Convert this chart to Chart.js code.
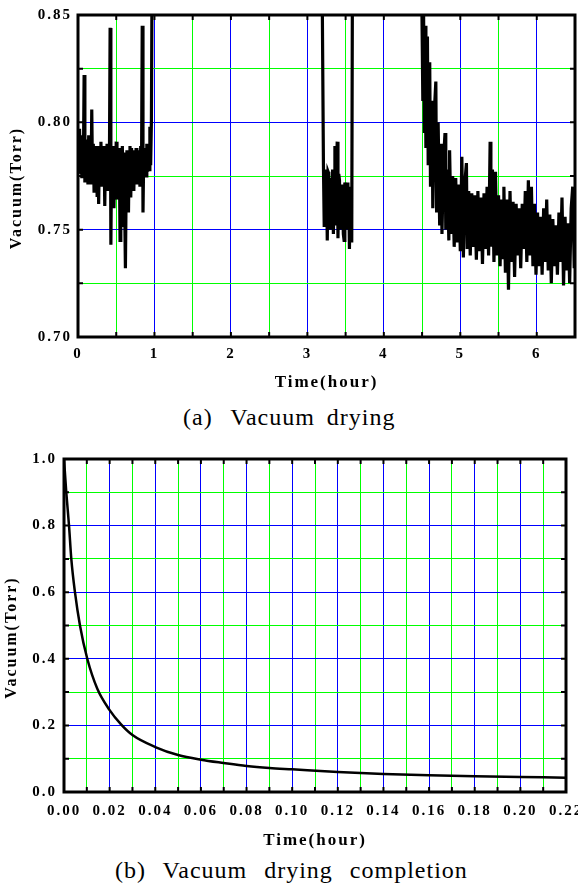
<!DOCTYPE html>
<html>
<head>
<meta charset="utf-8">
<script src="https://cdn.jsdelivr.net/npm/chart.js@4.4.1/dist/chart.umd.min.js"></script>
<style>
  html, body { margin: 0; padding: 0; background: #fff; width: 578px; height: 886px; overflow: hidden; }
  .wrap { position: absolute; left: 0; width: 578px; overflow: hidden; }
  .cap { position: absolute; font-family: "Liberation Serif", "Times New Roman", serif; font-size: 24px; line-height: 24px; letter-spacing: 1px; color: #000; white-space: pre; }
</style>
</head>
<body>
<div class="wrap" style="top:0;height:400px"><canvas id="chartA" width="600" height="400"></canvas></div>
<div class="cap" style="left:183px;top:405px;word-spacing:5px"><span style="margin-right:6px">(a)</span> Vacuum drying</div>
<div class="wrap" style="top:430px;height:425px"><canvas id="chartB" width="600" height="425"></canvas></div>
<div class="cap" style="left:115px;top:858px;word-spacing:10px">(b) Vacuum drying completion</div>
<script>
// ---------- data: (a) vacuum drying ----------
const dryTimes = [
  0.00,0.01,0.02,0.03,0.04,0.05,0.06,0.07,0.08,0.09,0.10,0.11,0.12,0.13,0.14,0.15,0.16,0.17,0.18,0.19,
  0.20,0.21,0.22,0.23,0.24,0.25,0.26,0.27,0.28,0.29,0.30,0.31,0.32,0.33,0.34,0.35,0.36,0.37,0.38,0.39,
  0.40,0.41,0.42,0.43,0.44,0.45,0.46,0.47,0.48,0.49,0.50,0.51,0.52,0.53,0.54,0.55,0.56,0.57,0.58,0.59,
  0.60,0.61,0.62,0.63,0.64,0.65,0.66,0.67,0.68,0.69,0.70,0.71,0.72,0.73,0.74,0.75,0.76,0.77,0.78,0.79,
  0.80,0.81,0.82,0.83,0.84,0.85,0.86,0.87,0.88,0.89,0.90,0.91,0.92,0.93,0.94,0.95,0.96,0.97,
  2.00,
  3.19,3.21,3.22,3.23,3.24,3.25,3.26,3.27,3.28,3.29,3.30,3.31,3.32,3.33,3.34,3.35,3.36,3.37,3.38,3.39,
  3.40,3.41,3.42,3.43,3.44,3.45,3.46,3.47,3.48,3.49,3.50,3.51,3.52,3.53,3.54,3.55,3.56,3.57,3.58,3.59,
  4.00,
  4.49,4.51,4.52,4.53,4.54,4.55,4.57,4.58,4.60,4.61,4.63,4.64,4.66,4.68,4.69,4.71,4.73,4.75,4.76,4.78,
  4.80,4.81,4.83,4.85,4.86,4.88,4.90,4.92,4.94,4.96,4.98,5.00,5.02,5.04,5.06,5.08,5.09,5.11,5.13,5.15,
  5.17,5.19,5.21,5.23,5.25,5.27,5.29,5.31,5.33,5.35,5.37,5.39,5.40,5.42,5.44,5.46,5.48,5.50,5.52,5.54,
  5.56,5.57,5.59,5.61,5.63,5.65,5.67,5.69,5.71,5.73,5.75,5.77,5.79,5.81,5.83,5.85,5.87,5.89,5.91,5.93,
  5.95,5.97,5.99,6.01,6.03,6.05,6.07,6.09,6.11,6.13,6.15,6.17,6.19,6.21,6.23,6.25,6.27,6.29,6.31,6.33,
  6.35,6.37,6.39,6.41,6.43,6.45,6.47,6.49,6.50
];
const dryVacuum = [
  0.795,0.776,0.797,0.780,0.794,0.774,0.790,0.778,0.822,0.772,0.792,0.777,0.789,0.771,0.794,0.776,0.788,0.771,0.806,0.774,
  0.790,0.768,0.789,0.774,0.788,0.766,0.789,0.762,0.787,0.772,0.791,0.770,0.786,0.775,0.789,0.761,0.787,0.772,0.790,0.768,
  0.786,0.776,0.844,0.743,0.788,0.770,0.789,0.760,0.786,0.772,0.791,0.764,0.787,0.770,0.788,0.745,0.786,0.768,0.789,0.752,
  0.786,0.762,0.732,0.770,0.787,0.764,0.758,0.786,0.789,0.765,0.788,0.772,0.787,0.768,0.786,0.774,0.788,0.771,0.787,0.775,
  0.787,0.770,0.789,0.773,0.845,0.758,0.786,0.778,0.788,0.775,0.790,0.777,0.789,0.778,0.798,0.780,0.800,0.880,
  null,
  0.880,0.780,0.752,0.778,0.760,0.775,0.745,0.777,0.776,0.755,0.750,0.774,0.752,0.778,0.748,0.772,0.789,0.752,0.776,0.791,
  0.746,0.776,0.773,0.750,0.771,0.755,0.770,0.748,0.745,0.772,0.768,0.750,0.772,0.755,0.770,0.741,0.769,0.752,0.744,0.880,
  null,
  0.880,0.810,0.850,0.795,0.845,0.788,0.840,0.780,0.828,0.770,0.810,0.760,0.805,0.819,0.758,0.800,0.752,0.790,0.748,0.782,
  0.795,0.750,0.778,0.745,0.787,0.748,0.775,0.742,0.774,0.744,0.771,0.740,0.784,0.737,0.772,0.781,0.741,0.768,0.738,0.767,
  0.742,0.766,0.736,0.768,0.740,0.765,0.734,0.767,0.741,0.770,0.738,0.791,0.742,0.778,0.735,0.777,0.738,0.766,0.733,0.764,
  0.737,0.770,0.730,0.764,0.722,0.768,0.735,0.763,0.728,0.762,0.738,0.760,0.732,0.762,0.741,0.768,0.735,0.773,0.738,0.770,
  0.733,0.762,0.729,0.758,0.733,0.756,0.729,0.760,0.735,0.764,0.731,0.757,0.725,0.755,0.733,0.752,0.729,0.758,0.735,0.765,
  0.724,0.756,0.731,0.753,0.725,0.760,0.770,0.732,0.745
];
const dryXLabels = [0, 1, 2, 3, 4, 5, 6];
const dryYLabels = [0.70, 0.75, 0.80, 0.85];

// ---------- data: (b) vacuum drying completion ----------
const completionTimes = [0, 0.001, 0.0022, 0.0032, 0.0048, 0.007, 0.0102, 0.0146, 0.02, 0.025, 0.03, 0.04, 0.05, 0.06, 0.07, 0.08, 0.09, 0.10, 0.12, 0.14, 0.16, 0.18, 0.20, 0.22];
const completionVacuum = [1.0, 0.9, 0.8, 0.7, 0.6, 0.5, 0.4, 0.31, 0.246, 0.203, 0.171, 0.135, 0.111, 0.097, 0.087, 0.078, 0.072, 0.068, 0.060, 0.054, 0.050, 0.047, 0.045, 0.043];
const compXLabels = [0, 0.02, 0.04, 0.06, 0.08, 0.10, 0.12, 0.14, 0.16, 0.18, 0.20, 0.22];
const compYLabels = [0, 0.2, 0.4, 0.6, 0.8, 1.0];

// ---------- helpers ----------
const FONT = '"Liberation Serif", "Times New Roman", serif';
const BLUE = '#0000ff', GREEN = '#00ff00';
const inList = (list, v) => list.some(u => Math.abs(u - v) < 1e-9);

const spacingPlugin = {
  id: 'spacing',
  beforeLayout(chart) { chart.ctx.letterSpacing = '2px'; },
  beforeDraw(chart) { chart.ctx.letterSpacing = '2px'; }
};
const framePlugin = {
  id: 'frame',
  afterDraw(chart) {
    const { ctx, chartArea: a, scales: { x, y } } = chart;
    ctx.save();
    ctx.strokeStyle = '#000';
    ctx.lineWidth = 2;
    const L = 5;
    x.ticks.forEach(t => {
      const px = x.getPixelForValue(t.value);
      ctx.beginPath();
      ctx.moveTo(px, a.bottom); ctx.lineTo(px, a.bottom - L);
      ctx.moveTo(px, a.top); ctx.lineTo(px, a.top + L);
      ctx.stroke();
    });
    y.ticks.forEach(t => {
      const py = y.getPixelForValue(t.value);
      ctx.beginPath();
      ctx.moveTo(a.left, py); ctx.lineTo(a.left + L, py);
      ctx.moveTo(a.right, py); ctx.lineTo(a.right - L, py);
      ctx.stroke();
    });
    ctx.lineWidth = 3;
    ctx.strokeRect(a.left, a.top, a.right - a.left, a.bottom - a.top);
    ctx.restore();
  }
};

function makeChart(id, cfg) {
  return new Chart(document.getElementById(id), {
    type: 'line',
    data: {
      datasets: [{
        data: cfg.times.map((t, i) => ({ x: t, y: cfg.values[i] })),
        borderColor: '#000',
        borderWidth: cfg.lineWidth,
        pointRadius: 0,
        spanGaps: false,
        tension: cfg.smooth ? 0.4 : 0,
        cubicInterpolationMode: cfg.smooth ? 'monotone' : 'default'
      }]
    },
    options: {
      responsive: false,
      animation: false,
      events: [],
      layout: { padding: cfg.padding },
      plugins: { legend: { display: false }, tooltip: { enabled: false } },
      scales: {
        x: {
          type: 'linear', min: cfg.xMin, max: cfg.xMax,
          afterFit: s => { s.height = cfg.xHeight; },
          grid: { color: c => inList(cfg.xMajor, c.tick.value) ? BLUE : GREEN, lineWidth: 1, drawTicks: false },
          border: { display: false },
          ticks: {
            stepSize: cfg.xStep, autoSkip: false, maxRotation: 0, padding: cfg.xPad,
            color: '#000', font: { family: FONT, size: 15, weight: 'bold' },
            callback: v => inList(cfg.xLabels, v) ? cfg.xFmt(v) : ''
          },
          title: { display: true, text: 'Time(hour)', color: '#000', font: { family: FONT, size: 17, weight: 'bold' }, padding: { top: 0, bottom: cfg.xTitlePad } }
        },
        y: {
          type: 'linear', min: cfg.yMin, max: cfg.yMax,
          afterFit: s => { s.width = cfg.yWidth; },
          grid: { color: c => inList(cfg.yMajor, c.tick.value) ? BLUE : GREEN, lineWidth: 1, drawTicks: false },
          border: { display: false },
          ticks: {
            stepSize: cfg.yStep, autoSkip: false, padding: cfg.yPad,
            color: '#000', font: { family: FONT, size: 15, weight: 'bold' },
            callback: v => inList(cfg.yLabels, v) ? cfg.yFmt(v) : ''
          },
          title: { display: true, text: 'Vacuum(Torr)    ', color: '#000', font: { family: FONT, size: 16, weight: 'bold' }, padding: { top: cfg.yTitlePad, bottom: 0 } }
        }
      }
    },
    plugins: [spacingPlugin, framePlugin]
  });
}

makeChart('chartA', {
  times: dryTimes, values: dryVacuum, lineWidth: 3.2, smooth: false,
  padding: { left: 0, top: 14, right: 25, bottom: 0 },
  xMin: 0, xMax: 6.5, xStep: 0.5, xHeight: 63, xPad: 8, xTitlePad: 7,
  xMajor: dryXLabels, xLabels: dryXLabels, xFmt: v => String(v),
  yMin: 0.70, yMax: 0.85, yStep: 0.025, yWidth: 78, yPad: 6, yTitlePad: 7,
  yMajor: dryYLabels, yLabels: dryYLabels, yFmt: v => v.toFixed(2)
});

makeChart('chartB', {
  times: completionTimes, values: completionVacuum, lineWidth: 2.5, smooth: true,
  padding: { left: 0, top: 29, right: 34, bottom: 0 },
  xMin: 0, xMax: 0.22, xStep: 0.01, xHeight: 63, xPad: 10, xTitlePad: 4,
  xMajor: compXLabels, xLabels: compXLabels, xFmt: v => v.toFixed(2),
  yMin: 0, yMax: 1.0, yStep: 0.1, yWidth: 64, yPad: 7, yTitlePad: 2,
  yMajor: compYLabels, yLabels: compYLabels, yFmt: v => v.toFixed(1)
});
</script>
</body>
</html>
